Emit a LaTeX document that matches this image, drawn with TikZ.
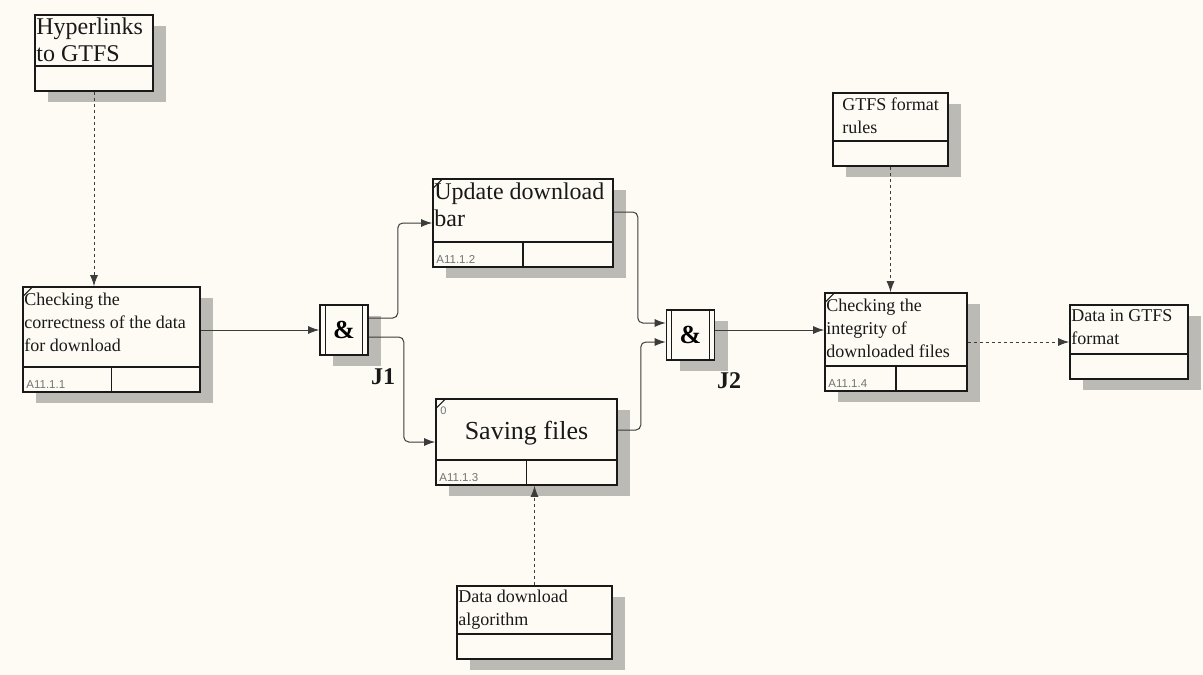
\documentclass[tikz,border=0pt]{standalone}
\usepackage{fontspec}
\setmainfont{Liberation Serif}
\newfontfamily\labelfont{Liberation Sans}
\usetikzlibrary{arrows.meta,shadows}
\definecolor{paper}{RGB}{253,251,243}
\definecolor{ink}{RGB}{25,25,25}
\definecolor{wire}{RGB}{60,60,60}
\definecolor{shade}{RGB}{188,186,180}
\definecolor{codegray}{RGB}{115,115,115}

\begin{document}
\begin{tikzpicture}[x=1pt,y=-1pt]
        \tikzstyle{block}=[draw=ink,line width=1.6pt,fill=paper,inner sep=0pt,drop shadow={shadow xshift=13pt,shadow yshift=-11pt,fill=shade,opacity=1}]
        \tikzstyle{junction}=[block,minimum width=48pt,minimum height=50pt,font=\fontsize{26}{26}\selectfont\bfseries]
        \tikzstyle{note}=[anchor=north west,align=left,inner sep=2pt,text=ink,font=\fontsize{18}{23}\selectfont]
        \tikzstyle{big}=[note,font=\fontsize{24}{27}\selectfont]
        \tikzstyle{code}=[anchor=south west,inner sep=4pt,text=codegray,font=\labelfont\fontsize{11.5}{12}\selectfont]
        \tikzstyle{jlabel}=[font=\fontsize{24}{24}\selectfont\bfseries,text=ink]
        \tikzstyle{flow}=[draw=wire,line width=1pt,rounded corners=5pt,-{Latex[length=11pt,width=8pt]}]
        \tikzstyle{ref}=[flow,dashed]

        \fill[paper] (0,0) rectangle (1203,675);
        \useasboundingbox (0,0) rectangle (1203,675);

        % arrows in and out
        \node[block,minimum width=118pt,minimum height=76pt] (b1) at (94,53) {};
        \node[block,minimum width=115pt,minimum height=73pt] (b2) at (890.5,129.5) {};
        \node[block,minimum width=118pt,minimum height=74pt] (b3) at (1129,342) {};
        \node[block,minimum width=155pt,minimum height=73pt] (b4) at (534.5,622.5) {};

        % activities
        \node[block,minimum width=177pt,minimum height=105pt] (p1) at (111.5,339.5) {};
        \node[block,minimum width=180pt,minimum height=88pt] (p2) at (523,223) {};
        \node[block,minimum width=181pt,minimum height=86pt] (p3) at (526.5,442) {};
        \node[block,minimum width=142pt,minimum height=98pt] (p4) at (896,342) {};

        % junctions
        \node[junction] (J1) at (344,330) {\&};
        \node[junction] (J2) at (690.5,335) {\&};
        \node[jlabel] (J1l) at (383,377) {J1};
        \node[jlabel] (J2l) at (729,381) {J2};

        \foreach \j in {J1,J2} {
          \draw[ink,line width=1.2pt] ([xshift=6pt]\j.north west) -- ([xshift=6pt]\j.south west);
          \draw[ink,line width=1.2pt] ([xshift=-6pt]\j.north east) -- ([xshift=-6pt]\j.south east);
        }

        % bottom strips
        \foreach \b in {b1,b2,b3,b4,p1,p2,p3,p4}
          \draw[ink,line width=1.6pt] ([yshift=26pt]\b.south west) -- ([yshift=26pt]\b.south east);
        \foreach \p in {p1,p2,p3,p4} {
          \draw[ink,line width=1.6pt] (\p.south) -- ([yshift=26pt]\p.south);
          \draw[ink,line width=1pt] ([yshift=-11pt]\p.north west) -- ([xshift=11pt]\p.north west);
        }

        % texts
        \node[big] (b1t) at ([yshift=-1pt]b1.north west) {Hyperlinks\\to GTFS};
        \node[note] (b2t) at ([xshift=8pt,yshift=-3pt]b2.north west) {GTFS format\\rules};
        \node[note] (b3t) at ([yshift=-3pt]b3.north west) {Data in GTFS\\format};
        \node[note] (b4t) at ([yshift=-3pt]b4.north west) {Data download\\algorithm};
        \node[note] (p1t) at ([yshift=-5pt]p1.north west) {Checking the\\correctness of the data\\for download};
        \node[big] (p2t) at ([yshift=-2pt]p2.north west) {Update download\\bar};
        \node[font=\fontsize{26}{26}\selectfont,text=ink] (p3t) at ([yshift=-35pt]p3.north) {Saving files};
        \node[anchor=north west,inner sep=0pt,text=codegray,font=\labelfont\fontsize{11}{11}\selectfont] (p3z) at ([xshift=5pt,yshift=-8pt]p3.north west) {0};
        \node[note] (p4t) at ([yshift=-5pt]p4.north west) {Checking the\\integrity of\\downloaded files};

        \node[code] (p1c) at (p1.south west) {A11.1.1};
        \node[code] (p2c) at (p2.south west) {A11.1.2};
        \node[code] (p3c) at (p3.south west) {A11.1.3};
        \node[code] (p4c) at (p4.south west) {A11.1.4};

        % connectors
        \draw[ref] (b1.south) -- (b1.south |- p1.north);
        \draw[flow] (p1.east |- J1.west) -- (J1.west);
        \draw[flow] ([yshift=12pt]J1.east) -- ++(29,0) |- (p2.west);
        \draw[flow] ([yshift=-7pt]J1.east) -- ++(35,0) |- (p3.west);
        \draw[flow] ([yshift=11pt]p2.east) -- ++(24,0) |- ([yshift=12pt]J2.west);
        \draw[flow] ([yshift=12pt]p3.east) -- ++(23,0) |- ([yshift=-7pt]J2.west);
        \draw[flow] ([yshift=5pt]J2.east) -- ([yshift=5pt]J2.east -| p4.west);
        \draw[ref] (b2.south) -- (b2.south |- p4.north);
        \draw[ref] (p4.east) -- (b3.west);
        \draw[ref] (b4.north) -- (b4.north |- p3.south);

    \end{tikzpicture}
\end{document}
